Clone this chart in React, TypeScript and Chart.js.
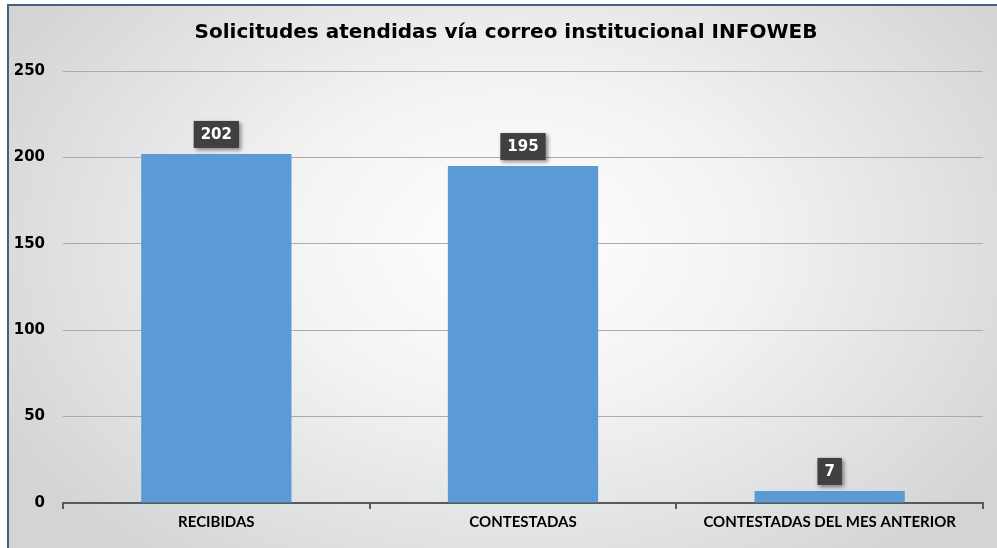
import React, { useEffect, useRef } from "react";
import { Chart, registerables } from "chart.js";

Chart.register(...registerables);

const categories = ["RECIBIDAS", "CONTESTADAS", "CONTESTADAS DEL MES ANTERIOR"];
const values = [202, 195, 7];
const yTicks = [0, 50, 100, 150, 200, 250];
const titleText = "Solicitudes atendidas vía correo institucional INFOWEB";

const boxLabelPlugin = {
  id: "boxLabels",
  afterDatasetsDraw(chart: any) {
    const ctx = chart.ctx;
    const meta = chart.getDatasetMeta(0);
    ctx.save();
    ctx.font = "bold 15px 'DejaVu Sans'";
    meta.data.forEach((bar: any, i: number) => {
      const txt = String(values[i]);
      const w = ctx.measureText(txt).width + 14;
      const h = 27;
      const x = bar.x - w / 2;
      const y = bar.y - 6 - h;
      ctx.shadowColor = "rgba(0,0,0,0.45)";
      ctx.shadowBlur = 4;
      ctx.shadowOffsetX = 2;
      ctx.shadowOffsetY = 2;
      ctx.fillStyle = "#404040";
      ctx.fillRect(x, y, w, h);
      ctx.shadowColor = "transparent";
      ctx.shadowBlur = 0;
      ctx.shadowOffsetX = 0;
      ctx.shadowOffsetY = 0;
      ctx.fillStyle = "#ffffff";
      ctx.textAlign = "center";
      ctx.textBaseline = "middle";
      ctx.fillText(txt, bar.x, y + h / 2 + 1);
    });
    ctx.restore();
  },
};

const titlePlugin = {
  id: "customTitle",
  afterDraw(chart: any) {
    const ctx = chart.ctx;
    ctx.save();
    ctx.font = "bold 20px 'DejaVu Sans'";
    ctx.fillStyle = "#000000";
    ctx.textAlign = "center";
    ctx.textBaseline = "middle";
    ctx.fillText(titleText, 506, 33);
    ctx.restore();
  },
};

export default function App() {
  const canvasRef = useRef<HTMLCanvasElement | null>(null);

  useEffect(() => {
    if (!canvasRef.current) return;
    const chart = new Chart(canvasRef.current, {
      type: "bar",
      data: {
        labels: categories,
        datasets: [
          {
            data: values,
            backgroundColor: "#5B9BD5",
            borderWidth: 0,
            categoryPercentage: 1,
            barPercentage: 0.49,
          },
        ],
      },
      options: {
        responsive: false,
        animation: false,
        devicePixelRatio: 1,
        layout: { padding: { left: 0, right: 14, top: 71, bottom: 0 } },
        plugins: {
          legend: { display: false },
          title: { display: false },
          tooltip: { enabled: false },
        },
        scales: {
          x: {
            grid: {
              display: true,
              drawOnChartArea: false,
              drawTicks: true,
              tickLength: 6,
              color: "#595959",
              lineWidth: 2,
              offset: true,
            },
            border: { display: true, color: "#595959", width: 2 },
            ticks: {
              color: "#000000",
              font: { family: "Lato", weight: "bold", size: 15 },
              padding: 4,
              maxRotation: 0,
              autoSkip: false,
            },
            afterFit: (s: any) => {
              s.height = 45;
            },
          },
          y: {
            min: 0,
            max: 250,
            afterBuildTicks: (s: any) => {
              s.ticks = yTicks.map((v) => ({ value: v }));
            },
            ticks: {
              color: "#000000",
              font: { family: "DejaVu Sans", weight: "bold", size: 15 },
              padding: 18,
            },
            grid: { color: "#ababab", drawTicks: false, lineWidth: 1 },
            border: { display: false },
            afterFit: (s: any) => {
              s.width = 63;
            },
          },
        },
      },
      plugins: [boxLabelPlugin, titlePlugin],
    });
    return () => chart.destroy();
  }, []);

  return (
    <div
      style={{
        position: "fixed",
        left: 0,
        top: 0,
        width: 997,
        height: 548,
        overflow: "hidden",
        background: "#ffffff",
      }}
    >
      <div
        style={{
          position: "absolute",
          left: 7,
          top: 4,
          width: 1010,
          height: 570,
          boxSizing: "border-box",
          borderLeft: "2px solid #44627f",
          borderTop: "2px solid #44627f",
          background:
            "radial-gradient(ellipse 58% 72% at 50% 42%, #ffffff 0%, #f3f3f3 40%, #d2d4d6 100%)",
        }}
      />
      <canvas
        ref={canvasRef}
        width={997}
        height={548}
        style={{ position: "absolute", left: 0, top: 0, width: 997, height: 548 }}
      />
    </div>
  );
}
